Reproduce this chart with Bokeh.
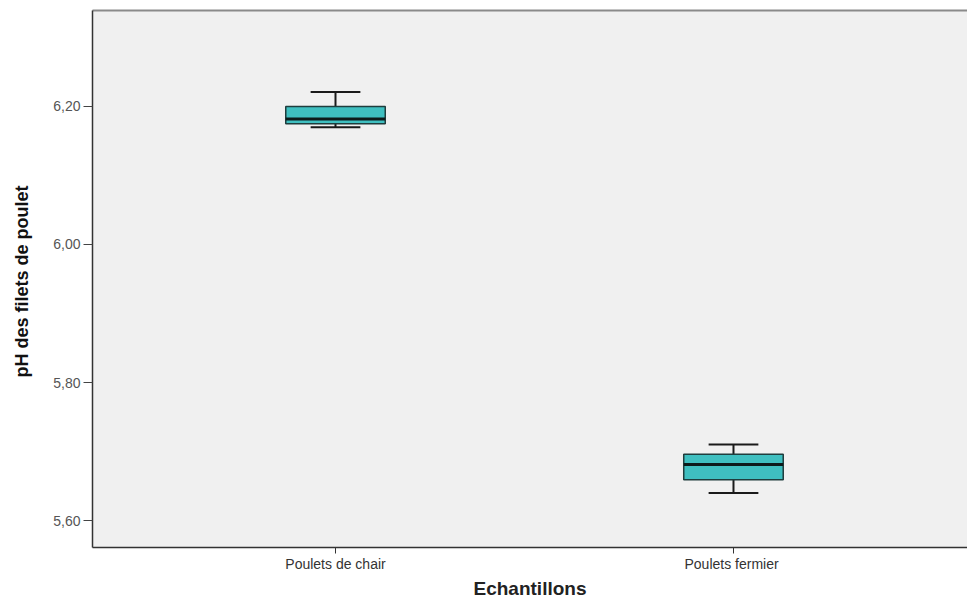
from bokeh.plotting import figure
from bokeh.models import LinearAxis, FixedTicker, Range1d, ColumnDataSource
from bokeh.embed import file_html
from bokeh.resources import INLINE

# ---- data ----
categories = ["Poulets de chair", "Poulets  fermier"]
whisker_low = [6.170, 5.640]
q1 = [6.175, 5.659]
median = [6.182, 5.681]
q3 = [6.200, 5.696]
whisker_high = [6.221, 5.710]
y_ticks = [5.60, 5.80, 6.00, 6.20]
y_tick_labels = ["5,60", "5,80", "6,00", "6,20"]

xpos = [i + 1 for i in range(len(categories))]
box_w = 0.25
cap_w = 0.125

src = ColumnDataSource(dict(
    x=xpos,
    left=[x - box_w / 2 for x in xpos],
    right=[x + box_w / 2 for x in xpos],
    cl=[x - cap_w / 2 for x in xpos],
    cr=[x + cap_w / 2 for x in xpos],
    lo=whisker_low, q1=q1, med=median, q3=q3, hi=whisker_high,
))

p = figure(width=967, height=602, output_backend="svg", toolbar_location=None,
           x_range=Range1d(0.3894, 2.588), y_range=Range1d(5.5609, 6.3391),
           min_border_left=92, min_border_right=0, min_border_top=10, min_border_bottom=55)

p.background_fill_color = "#f0f0f0"
p.border_fill_color = "white"
p.outline_line_color = None
p.xgrid.visible = False
p.ygrid.visible = False

# whiskers
p.segment(x0="x", x1="x", y0="q3", y1="hi", source=src, line_color="#1a1a1a", line_width=2)
p.segment(x0="x", x1="x", y0="lo", y1="q1", source=src, line_color="#1a1a1a", line_width=2)
p.segment(x0="cl", x1="cr", y0="hi", y1="hi", source=src, line_color="#1a1a1a", line_width=2)
p.segment(x0="cl", x1="cr", y0="lo", y1="lo", source=src, line_color="#1a1a1a", line_width=2)
# boxes
p.quad(left="left", right="right", bottom="q1", top="q3", source=src,
       fill_color="#3fbfc0", line_color="#1f3d3d", line_width=1.5)
# medians
p.segment(x0="left", x1="right", y0="med", y1="med", source=src, line_color="#0d1a1a", line_width=3)

# axes
xa = p.xaxis[0]
xa.ticker = FixedTicker(ticks=xpos)
xa.major_label_overrides = {x: c for x, c in zip(xpos, categories)}
xa.minor_tick_line_color = None
xa.major_tick_out = 6
xa.major_tick_in = 0
xa.axis_line_color = "#333333"
xa.axis_line_width = 1.5
xa.major_tick_line_color = "#333333"
xa.major_label_text_font = "Liberation Sans"
xa.major_label_text_font_size = "14px"
xa.major_label_text_color = "#333333"
xa.major_label_standoff = 2
xa.axis_label = "Echantillons"
xa.axis_label_text_font = "Liberation Sans"
xa.axis_label_text_font_size = "19px"
xa.axis_label_text_font_style = "bold"
xa.axis_label_text_color = "#222222"
xa.axis_label_standoff = 3

ya = p.yaxis[0]
ya.ticker = FixedTicker(ticks=y_ticks)
ya.major_label_overrides = {t: l for t, l in zip(y_ticks, y_tick_labels)}
ya.minor_tick_line_color = None
ya.major_tick_out = 9
ya.major_tick_in = 0
ya.axis_line_color = "#333333"
ya.axis_line_width = 1.5
ya.major_tick_line_color = "#444444"
ya.major_label_text_font = "Liberation Sans"
ya.major_label_text_font_size = "14px"
ya.major_label_text_color = "#555555"
ya.major_label_standoff = 3
ya.axis_label = "pH des filets de  poulet"
ya.axis_label_text_font = "Liberation Sans"
ya.axis_label_text_font_size = "18px"
ya.axis_label_text_font_style = "bold"
ya.axis_label_text_color = "#111111"
ya.axis_label_standoff = 18

top = LinearAxis(ticker=FixedTicker(ticks=[]), axis_line_color="#8a8a8a", axis_line_width=2,
                 major_tick_out=0, major_tick_in=0, minor_tick_out=0, minor_tick_in=0,
                 major_label_text_font_size="0px", major_label_standoff=0)
p.add_layout(top, "above")

open("out.html", "w").write(file_html(p, INLINE))
